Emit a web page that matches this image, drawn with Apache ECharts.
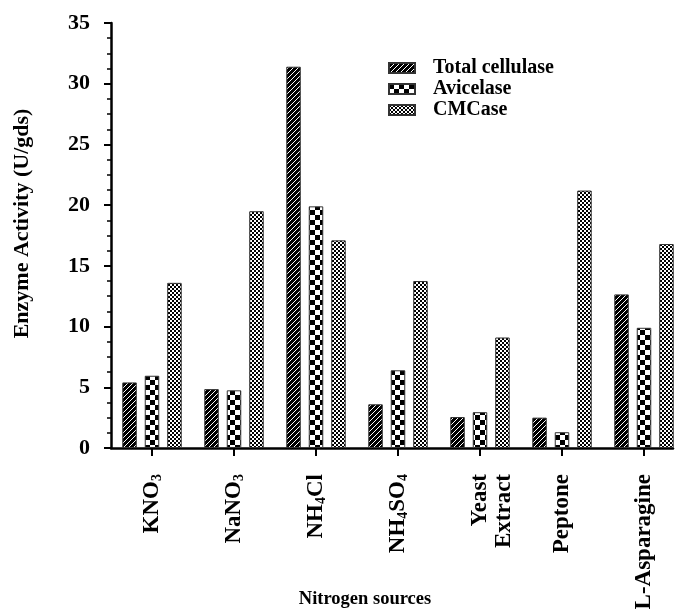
<!DOCTYPE html>
<html>
<head>
<meta charset="utf-8">
<script src="https://cdn.jsdelivr.net/npm/echarts@6/dist/echarts.min.js"></script>
<style>html,body{margin:0;padding:0;background:#fff}#c{width:676px;height:609px}</style>
</head>
<body>
<div id="c"></div>
<script>
const categories = ['KNO{s|3}', 'NaNO{s|3}', 'NH{s|4}Cl', 'NH{s|4}SO{s|4}', '\nYeast\nExtract', 'Peptone', 'L-Asparagine'];
const totalCellulase = [5.4, 4.85, 31.4, 3.6, 2.55, 2.5, 12.65];
const avicelase = [5.95, 4.75, 19.9, 6.4, 2.95, 1.3, 9.9];
const cmcase = [13.6, 19.5, 17.1, 13.75, 9.1, 21.2, 16.8];
const yTicks = {min: 0, max: 35, interval: 5};
const seriesNames = ['Total cellulase', 'Avicelase', 'CMCase'];
const xName = 'Nitrogen sources';
const yName = 'Enzyme Activity (U/gds)';

function makePattern(size, fn) {
  const cv = document.createElement('canvas');
  cv.width = size; cv.height = size;
  const ctx = cv.getContext('2d');
  const img = ctx.createImageData(size, size);
  for (let y = 0; y < size; y++) for (let x = 0; x < size; x++) {
    const v = fn(x, y) ? 0 : 255;
    const i = (y * size + x) * 4;
    img.data[i] = v; img.data[i+1] = v; img.data[i+2] = v; img.data[i+3] = 255;
  }
  ctx.putImageData(img, 0, 0);
  return {image: cv, repeat: 'repeat'};
}
const hatch = makePattern(5, (x, y) => (x + y) % 5 !== 0);
const bigCheck = makePattern(10, (x, y) => ((Math.floor(x / 5) + Math.floor(y / 5)) % 2) === 0);
const fineCheck = makePattern(4, (x, y) => ((Math.floor(x / 2) + Math.floor(y / 2)) % 2) === 0);

const FONT = '"Liberation Serif", "Times New Roman", serif';
const chart = echarts.init(document.getElementById('c'), null, {renderer: 'canvas'});
const barStyle = (pat) => ({color: pat, borderColor: '#333', borderWidth: 1});

chart.setOption({
  animation: false,
  backgroundColor: '#fff',
  legend: {
    orient: 'vertical', left: 383, top: 53,
    itemWidth: 26, itemHeight: 10, itemGap: 1,
    icon: 'rect',
    data: seriesNames,
    textStyle: {fontFamily: FONT, fontWeight: 'bold', fontSize: 20, color: '#000', padding: [0, 0, 0, 13]}
  },
  grid: [
    {left: 111, top: 23, width: 574, bottom: 161, outerBoundsMode: 'none', containLabel: false},
    {left: 111, top: 23, width: 562, bottom: 161, outerBoundsMode: 'none', containLabel: false}
  ],
  xAxis: [
    {
      type: 'category', gridIndex: 0, data: categories,
      axisLine: {show: false},
      axisTick: {show: true, alignWithLabel: true, length: 8, lineStyle: {color: '#000', width: 2}},
      axisLabel: {
        rotate: 90, margin: 26, color: '#000', fontFamily: FONT, fontWeight: 'bold', fontSize: 23,
        interval: 0, lineHeight: 24,
        rich: {
          s: {fontFamily: FONT, fontWeight: 'bold', fontSize: 14, verticalAlign: 'bottom', lineHeight: 14, padding: [11, 0, 0, 0]}
        }
      }
    },
    {
      type: 'value', gridIndex: 1, min: 0, max: 1,
      axisLine: {show: true, onZero: false, lineStyle: {color: '#000', width: 2.5}},
      axisTick: {show: false}, axisLabel: {show: false}, splitLine: {show: false},
      name: xName, nameLocation: 'middle', nameGap: 142,
      nameTextStyle: {fontFamily: FONT, fontWeight: 'bold', fontSize: 18.5, color: '#000', padding: [0, 54, 0, 0]}
    }
  ],
  yAxis: [
    {
      type: 'value', gridIndex: 0, min: yTicks.min, max: yTicks.max, interval: yTicks.interval,
      axisLine: {show: true, lineStyle: {color: '#000', width: 2.5}},
      axisTick: {show: true, length: 7, lineStyle: {color: '#000', width: 2}},
      minorTick: {show: true, splitNumber: 4, length: 4, lineStyle: {color: '#000', width: 1.5}},
      splitLine: {show: false},
      axisLabel: {margin: 21, color: '#000', fontFamily: FONT, fontWeight: 'bold', fontSize: 22},
      name: yName, nameLocation: 'middle', nameGap: 78, nameRotate: 90,
      nameTextStyle: {fontFamily: FONT, fontWeight: 'bold', fontSize: 22, color: '#000', padding: [0, 0, 0, 24]}
    },
    {type: 'value', gridIndex: 1, show: false, min: 0, max: 35}
  ],
  series: [
    {name: seriesNames[0], type: 'bar', xAxisIndex: 0, yAxisIndex: 0, data: totalCellulase, barWidth: 14.5, barGap: '55%', itemStyle: barStyle(hatch)},
    {name: seriesNames[1], type: 'bar', xAxisIndex: 0, yAxisIndex: 0, data: avicelase, barWidth: 14.5, barGap: '55%', itemStyle: barStyle(bigCheck)},
    {name: seriesNames[2], type: 'bar', xAxisIndex: 0, yAxisIndex: 0, data: cmcase, barWidth: 14.5, barGap: '55%', itemStyle: barStyle(fineCheck)}
  ]
});
</script>
</body>
</html>
